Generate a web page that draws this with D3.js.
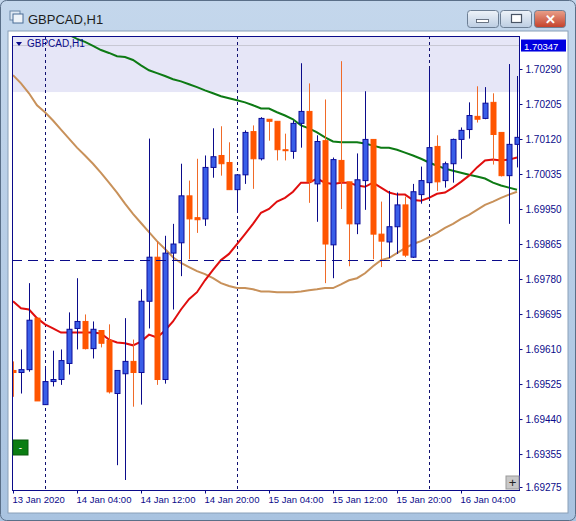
<!DOCTYPE html>
<html><head><meta charset="utf-8">
<script src="https://cdn.jsdelivr.net/npm/d3@7"></script>
<style>body{margin:0;background:#fff}svg{display:block}text{font-family:"Liberation Sans",Arial,sans-serif}</style>
</head><body><svg id="c" width="576" height="521"></svg>
<script>
const openP=[1.69558,1.69553,1.69560,1.69685,1.69475,1.69531,1.69536,1.69575,1.69660,1.69677,1.69611,1.69655,1.69631,1.69502,1.69550,1.69580,1.69553,1.69726,1.69833,1.69536,1.69843,1.69868,1.69982,1.69929,1.69926,1.70051,1.70080,1.70063,1.69997,1.70033,1.70138,1.70072,1.70168,1.70163,1.70094,1.70090,1.70158,1.70187,1.70011,1.70116,1.69863,1.70068,1.70016,1.69914,1.70019,1.70119,1.69889,1.69870,1.69907,1.69960,1.69833,1.69985,1.70014,1.70102,1.70019,1.70060,1.70119,1.70143,1.70175,1.70170,1.70209,1.70136,1.70031,1.70107];
const highP=[1.69580,1.69609,1.69770,1.69685,1.69567,1.69606,1.69609,1.69699,1.69782,1.69694,1.69677,1.69655,1.69670,1.69558,1.69685,1.69633,1.69755,1.70121,1.69872,1.69885,1.69914,1.70060,1.70019,1.70072,1.70080,1.70146,1.70151,1.70112,1.70033,1.70141,1.70153,1.70173,1.70168,1.70163,1.70133,1.70165,1.70304,1.70255,1.70129,1.70216,1.70075,1.70309,1.70016,1.70085,1.70236,1.70119,1.69968,1.69994,1.69990,1.69980,1.70011,1.70053,1.70290,1.70129,1.70065,1.70121,1.70148,1.70209,1.70248,1.70246,1.70231,1.70136,1.70302,1.70273];
const lowP=[1.69494,1.69502,1.69555,1.69484,1.69475,1.69519,1.69523,1.69548,1.69609,1.69609,1.69587,1.69614,1.69502,1.69328,1.69292,1.69470,1.69475,1.69660,1.69523,1.69526,1.69706,1.69787,1.69828,1.69892,1.69909,1.70026,1.70031,1.69997,1.69941,1.70011,1.69999,1.70068,1.70116,1.70068,1.70068,1.70072,1.70099,1.69965,1.69919,1.69770,1.69782,1.69950,1.69811,1.69889,1.69948,1.69828,1.69809,1.69831,1.69841,1.69833,1.69831,1.69963,1.69977,1.69994,1.70002,1.70014,1.70072,1.70121,1.70160,1.70168,1.70058,1.70029,1.69914,1.70051];
const closeP=[1.69553,1.69560,1.69680,1.69484,1.69531,1.69536,1.69582,1.69658,1.69677,1.69611,1.69658,1.69624,1.69506,1.69558,1.69580,1.69553,1.69726,1.69833,1.69536,1.69843,1.69865,1.69982,1.69926,1.69924,1.70051,1.70077,1.70060,1.69997,1.70033,1.70136,1.70072,1.70170,1.70163,1.70094,1.70092,1.70158,1.70187,1.70016,1.70114,1.69865,1.70070,1.70016,1.69914,1.70021,1.70119,1.69889,1.69872,1.69907,1.69960,1.69838,1.69992,1.70019,1.70099,1.70016,1.70060,1.70119,1.70141,1.70177,1.70168,1.70207,1.70131,1.70031,1.70107,1.70124];
const maRed=[1.69726,1.69709,1.69706,1.69685,1.69670,1.69660,1.69650,1.69650,1.69650,1.69650,1.69650,1.69648,1.69633,1.69626,1.69624,1.69619,1.69628,1.69645,1.69638,1.69655,1.69677,1.69706,1.69731,1.69748,1.69777,1.69802,1.69826,1.69841,1.69865,1.69889,1.69914,1.69941,1.69950,1.69968,1.69977,1.69992,1.70014,1.70014,1.70024,1.70014,1.70011,1.70014,1.70014,1.70007,1.70004,1.70014,1.70002,1.69990,1.69985,1.69985,1.69972,1.69970,1.69977,1.69987,1.69990,1.70002,1.70016,1.70031,1.70051,1.70068,1.70070,1.70068,1.70070,1.70075];
const maGreen=[null,null,null,null,null,null,null,1.70373,1.70363,1.70356,1.70346,1.70336,1.70329,1.70321,1.70319,1.70312,1.70299,1.70287,1.70280,1.70273,1.70265,1.70260,1.70253,1.70246,1.70238,1.70231,1.70224,1.70219,1.70214,1.70209,1.70202,1.70194,1.70194,1.70185,1.70177,1.70168,1.70153,1.70146,1.70136,1.70124,1.70114,1.70112,1.70112,1.70112,1.70109,1.70104,1.70099,1.70099,1.70094,1.70087,1.70080,1.70072,1.70063,1.70055,1.70048,1.70043,1.70038,1.70033,1.70029,1.70024,1.70014,1.70007,1.70002,1.69997];
const maTan=[1.70275,1.70255,1.70231,1.70202,1.70185,1.70165,1.70143,1.70121,1.70099,1.70080,1.70060,1.70038,1.70014,1.69990,1.69963,1.69938,1.69916,1.69894,1.69872,1.69853,1.69833,1.69819,1.69809,1.69799,1.69792,1.69782,1.69770,1.69763,1.69758,1.69758,1.69755,1.69750,1.69750,1.69748,1.69748,1.69748,1.69750,1.69753,1.69755,1.69758,1.69758,1.69767,1.69777,1.69782,1.69794,1.69811,1.69826,1.69831,1.69843,1.69855,1.69865,1.69872,1.69882,1.69892,1.69904,1.69914,1.69926,1.69936,1.69948,1.69960,1.69968,1.69977,1.69985,1.69992];
const priceTicks=[1.70290,1.70205,1.70120,1.70035,1.69950,1.69865,1.69780,1.69695,1.69610,1.69525,1.69440,1.69355,1.69275];
const timeLabels=["13 Jan 2020","14 Jan 04:00","14 Jan 12:00","14 Jan 20:00","15 Jan 04:00","15 Jan 12:00","15 Jan 20:00","16 Jan 04:00"];
const timeLabelIdx=[0,8,16,24,32,40,48,56];
const daySepIdx=[4,28,52];
const currentPrice=1.70347, levelPrice=1.69826, bandTop=1.70380, bandBottom=1.70234;

const svg=d3.select("#c");
const L=12,R=519,T=36,B=490;
const x=d3.scaleLinear().domain([0,63]).range([13,517]);
const y=d3.scaleLinear().domain([1.69275,1.70290]).range([487,69]);
const navy="#0b0b8a";
const FONT="'Liberation Sans',Arial,sans-serif";

const defs=svg.append("defs");
const g0=defs.append("linearGradient").attr("id","tb").attr("x1",0).attr("y1",0).attr("x2",0).attr("y2",1);
g0.append("stop").attr("offset",0).attr("stop-color","#c4d7ec");g0.append("stop").attr("offset",1).attr("stop-color","#a9c3e0");
const g1=defs.append("linearGradient").attr("id","bt").attr("x1",0).attr("y1",0).attr("x2",0).attr("y2",1);
g1.append("stop").attr("offset",0).attr("stop-color","#eef3f9");g1.append("stop").attr("offset",1).attr("stop-color","#bccde2");
const g2=defs.append("linearGradient").attr("id","bc").attr("x1",0).attr("y1",0).attr("x2",0).attr("y2",1);
g2.append("stop").attr("offset",0).attr("stop-color","#e9a08a");g2.append("stop").attr("offset",1).attr("stop-color","#c4402a");
svg.append("rect").attr("width",576).attr("height",521).attr("fill","url(#tb)");
svg.append("rect").attr("x",0.5).attr("y",0.5).attr("width",575).attr("height",520).attr("rx",6).attr("fill","none").attr("stroke","#5a6f88");
svg.append("rect").attr("x",8).attr("y",31).attr("width",560).attr("height",482).attr("fill","#fff").attr("stroke","#8aa0b8");
svg.append("rect").attr("x",10).attr("y",11).attr("width",10).attr("height",9).attr("fill","#dfe8f3").attr("stroke","#6b86a6");
svg.append("rect").attr("x",13).attr("y",14).attr("width",10).attr("height",9).attr("fill","#eef3f9").attr("stroke","#4a6d96");
svg.append("text").attr("x",28).attr("y",24).attr("font-size",13).attr("fill","#1e1e1e").text("GBPCAD,H1");
[[467,31,"url(#bt)"],[500,31,"url(#bt)"],[534,31,"url(#bc)"]].forEach(([bx,w,c])=>
  svg.append("rect").attr("x",bx+.5).attr("y",10.5).attr("width",w).attr("height",17).attr("rx",3).attr("fill",c).attr("stroke","#6d7f95"));
svg.append("rect").attr("x",476.5).attr("y",19.5).attr("width",12).attr("height",3).attr("fill","#fff").attr("stroke","#4a5566").attr("stroke-width",0.8);
svg.append("rect").attr("x",511.5).attr("y",14.5).attr("width",10).attr("height",8).attr("fill","#fff").attr("stroke","#4a5566").attr("stroke-width",1.2);
svg.append("text").attr("x",550).attr("y",24).attr("text-anchor","middle").attr("font-size",13).attr("font-weight","bold").attr("fill","#fff").text("✕");

svg.append("clipPath").attr("id","pc").append("rect").attr("x",L).attr("y",T).attr("width",R-L).attr("height",B-T);
const p=svg.append("g").attr("clip-path","url(#pc)");
p.append("rect").attr("x",L).attr("y",y(bandTop)).attr("width",R-L).attr("height",y(bandBottom)-y(bandTop)).attr("fill","#e6e6f7");
p.append("line").attr("x1",L).attr("x2",R).attr("y1",y(currentPrice)).attr("y2",y(currentPrice)).attr("stroke","#c8c8d4");
daySepIdx.forEach(i=>p.append("line").attr("x1",x(i)+.5).attr("x2",x(i)+.5).attr("y1",T).attr("y2",B).attr("stroke","#101070").attr("stroke-dasharray","3,3"));
svg.append("line").attr("x1",L).attr("x2",522).attr("y1",Math.round(y(levelPrice))+.5).attr("y2",Math.round(y(levelPrice))+.5).attr("stroke",navy).attr("stroke-dasharray","10,6");

const line=d3.line().defined(d=>d!=null).x((d,i)=>x(i)).y(d=>y(d));
[[maTan,"#c8915a"],[maGreen,"#0d7a14"],[maRed,"#e00e0e"]].forEach(([a,c])=>p.append("path").attr("d",line(a)).attr("fill","none").attr("stroke",c).attr("stroke-width",2));

openP.forEach((o,i)=>{
  const c=closeP[i],bull=c>=o,cx=Math.round(x(i))+.5;
  p.append("line").attr("x1",cx).attr("x2",cx).attr("y1",y(highP[i])).attr("y2",y(lowP[i])).attr("stroke",bull?navy:"#f06a28").attr("stroke-width",1);
  const t=y(Math.max(o,c)),b=y(Math.min(o,c));
  p.append("rect").attr("x",cx-2.5).attr("y",t).attr("width",5).attr("height",Math.max(1,b-t))
    .attr("fill",bull?"#3a5ee8":"#ff5500").attr("stroke",bull?"#0d0d9a":"#ff5500").attr("stroke-width",1);
});

svg.append("rect").attr("x",L+.5).attr("y",T+.5).attr("width",R-L).attr("height",B-T).attr("fill","none").attr("stroke",navy);
svg.append("g").attr("transform",`translate(${R+.5},0)`).call(d3.axisRight(y).tickValues(priceTicks).tickSize(3).tickFormat(d3.format(".5f")))
 .call(g=>{g.select(".domain").remove();g.selectAll("line").attr("stroke",navy);g.selectAll("text").attr("fill",navy).attr("font-size",10).attr("x",6).attr("font-family",FONT);});
svg.append("g").attr("transform",`translate(0,${B+.5})`).call(d3.axisBottom(x).tickValues(timeLabelIdx).tickSize(3).tickFormat((d,i)=>timeLabels[i]))
 .call(g=>{g.select(".domain").remove();g.selectAll("line").attr("stroke",navy);g.selectAll("text").attr("fill",navy).attr("font-size",9.5).attr("text-anchor","start").attr("dx",-1).attr("y",6).attr("font-family",FONT);});
svg.append("rect").attr("x",521).attr("y",y(currentPrice)-6).attr("width",45).attr("height",12).attr("fill","#0000e0");
svg.append("text").attr("x",524).attr("y",y(currentPrice)+4).attr("font-size",9.5).attr("fill","#fff").text(currentPrice.toFixed(5));
svg.append("path").attr("d","M16,42 L22,42 L19,46 Z").attr("fill",navy);
svg.append("text").attr("x",27).attr("y",47).attr("font-size",10).attr("fill",navy).text("GBPCAD,H1");
svg.append("rect").attr("x",13).attr("y",440).attr("width",15).attr("height",15).attr("fill","#0a7d12").attr("stroke","#0a5a0e");
svg.append("text").attr("x",20.5).attr("y",451).attr("text-anchor","middle").attr("font-size",10).attr("fill","#fff").text("-");
svg.append("rect").attr("x",506).attr("y",476).attr("width",13).attr("height",13).attr("fill","#c8c8c8").attr("stroke","#999");
svg.append("text").attr("x",512.5).attr("y",487).attr("text-anchor","middle").attr("font-size",13).attr("fill","#222").text("+");
</script></body></html>
